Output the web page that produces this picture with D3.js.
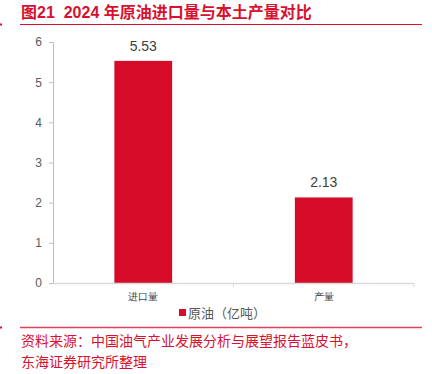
<!DOCTYPE html>
<html><head><meta charset="utf-8">
<script src="https://cdn.jsdelivr.net/npm/d3@7"></script>
<style>body{margin:0;background:#fff}svg{display:block;font-family:"Noto Sans CJK SC","Liberation Sans",sans-serif}</style>
</head><body><svg id="c" width="432" height="374"></svg>
<script>
const categories = ["进口量", "产量"];
const values = [5.53, 2.13];
const yTicks = [0, 1, 2, 3, 4, 5, 6];
const seriesName = "原油（亿吨）";
const title = "图21  2024 年原油进口量与本土产量对比";
const source = ["资料来源：中国油气产业发展分析与展望报告蓝皮书，", "东海证券研究所整理"];

const red = "#D50B27", tred = "#D9102E";
const svg = d3.select("#c");
const x = d3.scaleBand().domain(categories).range([53, 414]).paddingInner(0.68).paddingOuter(0.34);
const y = d3.scaleLinear().domain([0, 6]).range([283, 42]);

// title
svg.append("text").attr("x", 21).attr("y", 18).attr("fill", tred).attr("font-size", 16).attr("font-weight", "bold")
  .attr("font-family", "Liberation Sans, Noto Sans CJK SC, sans-serif").style("white-space", "pre").text(title);
svg.append("line").attr("x1", 20).attr("x2", 422).attr("y1", 24.5).attr("y2", 24.5).attr("stroke", tred).attr("stroke-width", 1.2);
svg.append("rect").attr("x", 0).attr("y", 23.5).attr("width", 2).attr("height", 2).attr("fill", tred);

// y axis
const ya = svg.append("g").attr("transform", "translate(53,0)").call(d3.axisLeft(y).tickValues(yTicks).tickFormat(d3.format("d")).tickSize(4).tickPadding(7));
ya.select(".domain").attr("stroke", "#BFBFBF");
ya.selectAll(".tick line").attr("stroke", "#BFBFBF");
ya.selectAll("text").attr("fill", "#595959").attr("font-size", 12).attr("font-family", "Liberation Sans, sans-serif");

// bars
svg.selectAll("rect.bar").data(values).enter().append("rect").attr("class", "bar")
  .attr("x", (d, i) => x(categories[i])).attr("width", x.bandwidth())
  .attr("y", d => y(d)).attr("height", d => y(0) - y(d)).attr("fill", red);

// x axis
const xa = svg.append("g").attr("transform", "translate(0,283)")
  .call(d3.axisBottom(x).tickSize(0).tickPadding(10));
xa.select(".domain").remove();
xa.selectAll("text").attr("fill", "#404040").attr("font-size", 10);
svg.append("line").attr("x1", 53).attr("x2", 414).attr("y1", 283.5).attr("y2", 283.5).attr("stroke", "#D9D9D9").attr("stroke-width", 1.5);
[53 + (414 - 53) / 2, 414].forEach(v => svg.append("line").attr("x1", v).attr("x2", v).attr("y1", 283).attr("y2", 287).attr("stroke", "#D9D9D9"));

// value labels
svg.selectAll("text.val").data(values).enter().append("text").attr("class", "val")
  .attr("x", (d, i) => x(categories[i]) + x.bandwidth() / 2).attr("y", d => y(d) - 10)
  .attr("text-anchor", "middle").attr("fill", "#404040").attr("font-size", 14)
  .attr("font-family", "Liberation Sans, sans-serif").text(d => d.toFixed(2));

// legend
svg.append("rect").attr("x", 179).attr("y", 309).attr("width", 7).attr("height", 7).attr("fill", red);
svg.append("text").attr("x", 188).attr("y", 318).attr("fill", "#595959").attr("font-size", 13).text(seriesName);

// bottom
svg.append("line").attr("x1", 20).attr("x2", 422).attr("y1", 327.5).attr("y2", 327.5).attr("stroke", "#E0405A").attr("stroke-width", 1.5);
svg.append("rect").attr("x", 0).attr("y", 326.5).attr("width", 2).attr("height", 2).attr("fill", tred);
source.forEach((s, i) => svg.append("text").attr("x", 21).attr("y", 346 + i * 21).attr("fill", tred).attr("font-size", 14).text(s));
</script></body></html>
